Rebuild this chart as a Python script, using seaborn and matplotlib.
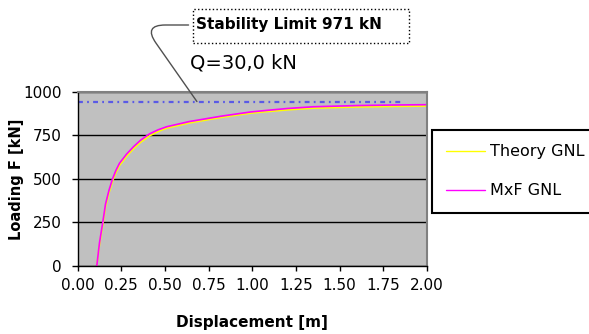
import matplotlib
matplotlib.use("Agg")
import matplotlib.pyplot as plt
from matplotlib.patches import Rectangle
from matplotlib.ticker import FormatStrFormatter
import seaborn as sns

# data
disp = [0.11, 0.125, 0.145, 0.16, 0.18, 0.20, 0.22, 0.24, 0.28, 0.32, 0.36,
        0.41, 0.46, 0.51, 0.64, 0.83, 0.99, 1.06, 1.20, 1.35, 1.60, 1.80, 2.00]
mxf_gnl = [0, 130, 255, 355, 435, 500, 550, 590, 642, 685, 722,
           758, 782, 800, 830, 862, 885, 892, 905, 915, 922, 925, 927]
theory_gnl = [0, 118, 240, 340, 420, 487, 537, 577, 630, 673, 710,
              747, 772, 792, 822, 855, 878, 885, 897, 907, 914, 917, 919]
stab_x = [0.0, 1.85]
stab_y = [945, 945]
x_ticks = [0.00, 0.25, 0.50, 0.75, 1.00, 1.25, 1.50, 1.75, 2.00]
y_ticks = [0, 250, 500, 750, 1000]

sns.set_theme(style="ticks")
plt.rcParams['font.family'] = ['DejaVu Sans']
plt.rcParams['text.color'] = 'black'
plt.rcParams['axes.labelcolor'] = 'black'
plt.rcParams['xtick.color'] = 'black'
plt.rcParams['ytick.color'] = 'black'

W, H = 589, 334
fig = plt.figure(figsize=(W / 100, H / 100), dpi=100)
ax = fig.add_axes([77.6 / W, 1 - 265.7 / H, (427 - 77.6) / W, (265.7 - 92) / H])
ax.set_facecolor('#c0c0c0')

# curves
sns.lineplot(x=disp, y=theory_gnl, color='#ffff00', lw=1.2, label='Theory GNL',
             sort=False, ax=ax)
sns.lineplot(x=disp, y=mxf_gnl, color='#ff00ff', lw=1.2, label='MxF GNL',
             sort=False, ax=ax)
# stability limit line
sns.lineplot(x=stab_x, y=stab_y, color='#5a5ae6', lw=1.6,
             linestyle=(0, (2.2, 1.9, 0.8, 1.9)), legend=False, ax=ax)

ax.set_xlim(0, 2)
ax.set_ylim(0, 1000)
ax.set_xticks(x_ticks)
ax.set_yticks(y_ticks)
ax.xaxis.set_major_formatter(FormatStrFormatter('%.2f'))
ax.yaxis.grid(True, color='black', lw=1.0)
ax.xaxis.grid(False)
ax.set_axisbelow(True)

for s in ['left', 'bottom']:
    ax.spines[s].set_color('black')
    ax.spines[s].set_linewidth(1.0)
for s in ['top', 'right']:
    ax.spines[s].set_color('#808080')
    ax.spines[s].set_linewidth(1.5)

ax.tick_params(axis='y', length=4.3, width=1, pad=7, labelsize=11)
ax.tick_params(axis='x', length=3.6, width=1, pad=5, labelsize=11)

ax.set_xlabel('Displacement [m]', fontsize=11, fontweight='bold', va='center')
ax.set_ylabel('Loading F [kN]', fontsize=10.5, fontweight='bold', va='center')
ax.xaxis.set_label_coords(0.5, (265.7 - 322) / 173.7)
ax.yaxis.set_label_coords((16.7 - 77.6) / 349.4, 0.5)

# legend box (cut off at the right edge like the original)
leg = ax.legend(loc='upper left', bbox_to_anchor=(432 / W, 1 - 130 / H),
                bbox_transform=fig.transFigure, frameon=True, fancybox=False,
                edgecolor='black', framealpha=1, fontsize=11.5,
                handlelength=2.4, handletextpad=0.3, labelspacing=1.5,
                borderpad=0.9, borderaxespad=0)
leg.get_frame().set_linewidth(1.5)
for line in leg.get_lines():
    line.set_linewidth(1.0)

# annotation box + connector
fig.patches.append(Rectangle((193 / W, 1 - 43 / H), 216 / W, 34 / H,
                             transform=fig.transFigure, fill=False,
                             edgecolor='black', lw=1, linestyle=':'))
ax.annotate('Stability Limit 971 kN', xy=(0.683, 945), xycoords='data',
            xytext=(196 / W, 1 - 25 / H), textcoords='figure fraction',
            ha='left', va='center', fontsize=11, fontweight='bold',
            arrowprops=dict(arrowstyle='-', color='#505050', lw=1,
                            shrinkA=3, shrinkB=0,
                            connectionstyle='angle,angleA=0,angleB=125,rad=22'),
            annotation_clip=False)
fig.text(190 / W, 1 - 63 / H, 'Q=30,0 kN', fontsize=14, va='center', ha='left')

fig.savefig('out.png', dpi=100)
